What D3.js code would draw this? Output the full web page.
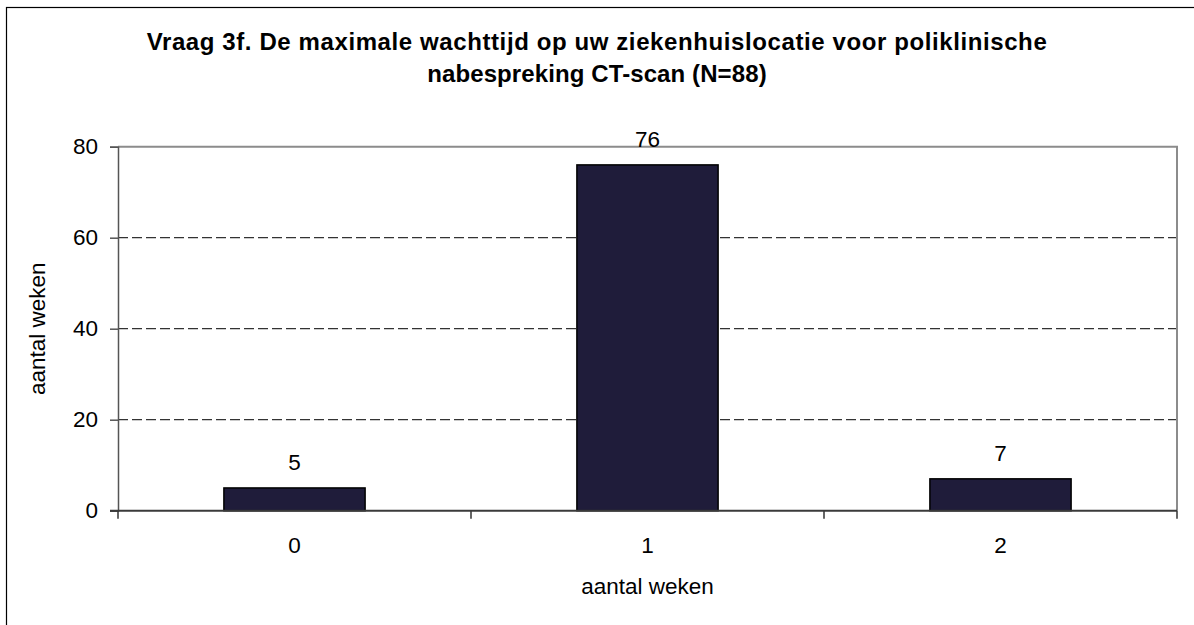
<!DOCTYPE html>
<html>
<head>
<meta charset="utf-8">
<script src="https://cdn.jsdelivr.net/npm/d3@7"></script>
<style>
  html, body { margin: 0; padding: 0; background: #fff; overflow: hidden; }
  svg { display: block; }
  text { font-family: "Liberation Sans", Arial, sans-serif; fill: #000; }
</style>
</head>
<body>
<svg id="chart" width="1194" height="625"></svg>
<script>
const titleLines = ["Vraag 3f. De maximale wachttijd op uw ziekenhuislocatie voor poliklinische",
                    "nabespreking CT-scan (N=88)"];
const categories = ["0", "1", "2"];
const values = [5, 76, 7];
const yTicks = [0, 20, 40, 60, 80];
const xAxisTitle = "aantal weken";
const yAxisTitle = "aantal weken";

const svg = d3.select("#chart");
const plot = { left: 118, right: 1177, top: 146.7, bottom: 510.7 };

// outer chart border (extends beyond viewport on right/bottom)
svg.append("rect").attr("x", 6.5).attr("y", 7.5).attr("width", 1400).attr("height", 800)
  .attr("fill", "#fff").attr("stroke", "#000").attr("stroke-width", 1.2);

const x = d3.scaleBand().domain(categories).range([plot.left, plot.right]).padding(0);
const xBar = d3.scaleBand().domain(categories).range([plot.left, plot.right])
  .paddingInner(0.6).paddingOuter(0.3);
const y = d3.scaleLinear().domain([0, 80]).range([plot.bottom, plot.top]);

// gridlines
svg.append("g").selectAll("line").data(yTicks.filter(d => d > 0 && d < 80)).join("line")
  .attr("x1", plot.left).attr("x2", plot.right)
  .attr("y1", d => y(d)).attr("y2", d => y(d))
  .attr("stroke", "#333").attr("stroke-width", 1.2).attr("stroke-dasharray", "10,4");

// plot border top/right
svg.append("path")
  .attr("d", `M${plot.left},${plot.top}H${plot.right}V${plot.bottom}`)
  .attr("fill", "none").attr("stroke", "#8c8c8c").attr("stroke-width", 2);

// bars
svg.append("g").selectAll("rect").data(values).join("rect")
  .attr("x", (d, i) => xBar(categories[i]))
  .attr("width", xBar.bandwidth())
  .attr("y", d => y(d))
  .attr("height", d => y(0) - y(d))
  .attr("fill", "#1f1c3a").attr("stroke", "#000").attr("stroke-width", 1.5);

// y axis
const yAxis = d3.axisLeft(y).tickValues(yTicks).tickSize(8).tickPadding(12).tickFormat(d3.format("d"));
const gy = svg.append("g").attr("transform", `translate(${plot.left},0)`).call(yAxis);
gy.select(".domain").attr("stroke", "#555").attr("stroke-width", 1.5);
gy.selectAll(".tick line").attr("stroke", "#555").attr("stroke-width", 1.5);
gy.selectAll(".tick text").attr("font-size", "22.5px").attr("font-family", "Liberation Sans, Arial, sans-serif");

// x axis
const xAxis = d3.axisBottom(x).tickSize(0).tickPadding(0);
const gx = svg.append("g").attr("transform", `translate(0,${plot.bottom})`).call(xAxis);
gx.select(".domain").remove();
gx.selectAll(".tick text").attr("font-size", "22.5px").attr("font-family", "Liberation Sans, Arial, sans-serif")
  .attr("dy", null).attr("y", 42);
// tick marks at category boundaries
const bounds = [plot.left].concat(categories.map(c => x(c) + x.bandwidth()));
svg.append("g").selectAll("line").data(bounds).join("line")
  .attr("x1", d => d).attr("x2", d => d)
  .attr("y1", plot.bottom).attr("y2", plot.bottom + 8)
  .attr("stroke", "#333").attr("stroke-width", 1.5);
svg.append("line").attr("x1", plot.left - 8).attr("x2", plot.right)
  .attr("y1", plot.bottom).attr("y2", plot.bottom)
  .attr("stroke", "#3a3a3a").attr("stroke-width", 2);

// data labels
svg.append("g").selectAll("text").data(values).join("text")
  .attr("x", (d, i) => xBar(categories[i]) + xBar.bandwidth() / 2)
  .attr("y", d => y(d) - 18)
  .attr("text-anchor", "middle").attr("font-size", "22.5px")
  .text(d => d);

// title
svg.append("g").selectAll("text").data(titleLines).join("text")
  .attr("x", 597).attr("y", (d, i) => 50 + i * 31.5)
  .attr("text-anchor", "middle").attr("font-size", "24px").attr("font-weight", "bold")
  .attr("letter-spacing", (d, i) => i === 0 ? "0.6px" : "0.1px")
  .text(d => d);

// axis titles
svg.append("text").attr("x", (plot.left + plot.right) / 2).attr("y", 594)
  .attr("text-anchor", "middle").attr("font-size", "22.5px").text(xAxisTitle);
svg.append("text").attr("transform", `translate(45,${(plot.top + plot.bottom) / 2}) rotate(-90)`)
  .attr("text-anchor", "middle").attr("font-size", "22.5px").text(yAxisTitle);
</script>
</body>
</html>
